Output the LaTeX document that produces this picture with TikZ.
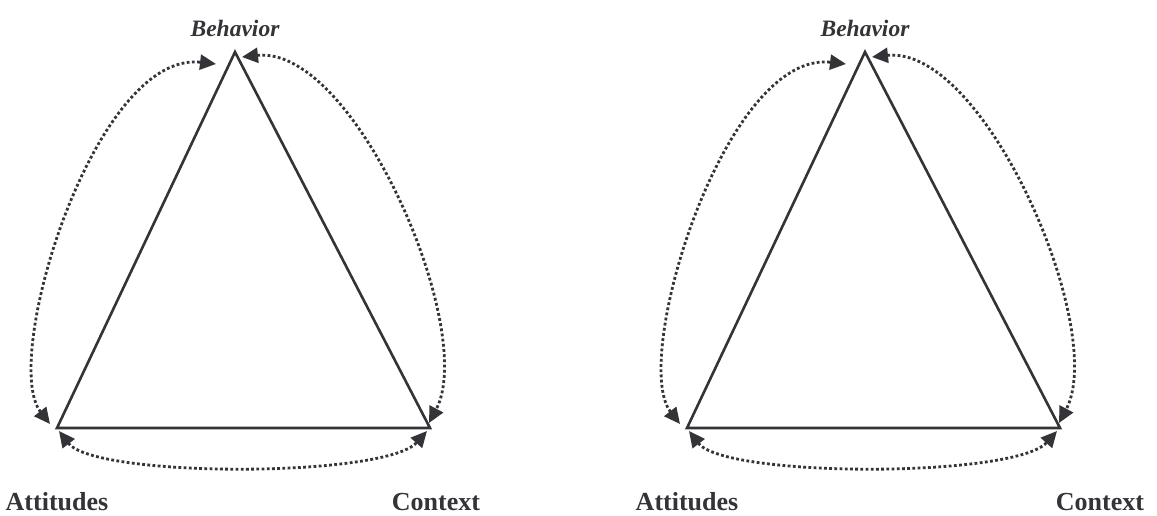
\documentclass[tikz,border=0pt]{standalone}
\usepackage{fontspec}
\setmainfont{Liberation Serif}
\usetikzlibrary{arrows.meta}
\definecolor{ink}{HTML}{333338}
\tikzset{
  side/.style={draw=ink, line width=2.6pt, line join=miter},
  loop/.style={draw=ink, line width=2.8pt, dash pattern=on 2.8pt off 2.4pt,
     {Triangle[length=16pt,width=15pt,fill=ink]}-{Triangle[length=16pt,width=15pt,fill=ink]}},
  toplabel/.style={font=\bfseries\itshape\fontsize{23.5}{27}\selectfont, text=ink, inner sep=0pt, anchor=base},
  botlabel/.style={font=\bfseries\fontsize{26}{30}\selectfont, text=ink, inner sep=0pt, anchor=base},
}
\newcommand{\triad}[3]{%
\begin{scope}[shift={(#1,0)}]
  \coordinate (#2B) at (235,52);
  \coordinate (#2A) at (57,428);
  \coordinate (#2C) at (430,428);
  \draw[side] (#2B) -- (#2A) -- (#2C) -- cycle;
  \coordinate (#2a1) at (50,424);
  \coordinate (#2b1) at (216,64);
  \coordinate (#2b2) at (242,57);
  \coordinate (#2c1) at (429,423);
  \coordinate (#2a2) at (59,431);
  \coordinate (#2c2) at (427,431);
  \draw[loop] (#2a1) .. controls (0,360) and (95,50) .. (#2b1);
  \draw[loop] (#2b2) .. controls (355,45) and (478,330) .. (#2c1);
  \draw[loop] (#2a2) .. controls (95,478) and (385,478) .. (#2c2);
  \node[toplabel] (#2lb) at (235,36) {Behavior};
  \node[botlabel] (#2la) at (57,510) {Attitudes};
  \node[botlabel] (#2lc) at (#3,510) {Context};
\end{scope}}
\begin{document}
\begin{tikzpicture}[x=1pt,y=-1pt]
\useasboundingbox (0,0) rectangle (1157,515);
\triad{0}{L}{436}
\triad{630}{R}{470}
\end{tikzpicture}
\end{document}
